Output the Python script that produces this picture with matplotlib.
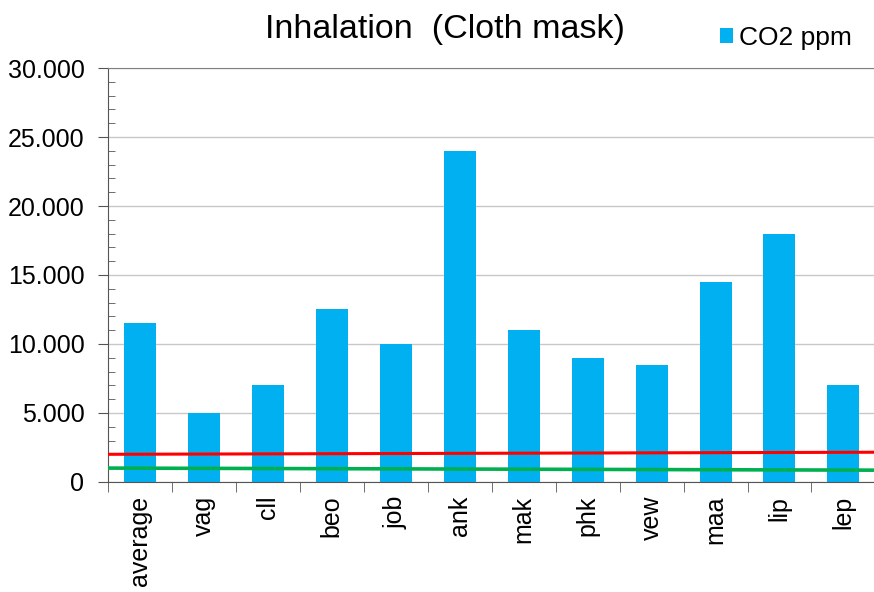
import numpy as np
import matplotlib.pyplot as plt
from matplotlib.ticker import FuncFormatter, MultipleLocator

# 数据
categories = ['average', 'vag', 'cll', 'beo', 'job', 'ank', 'mak', 'phk', 'vew', 'maa', 'lip', 'lep']
co2_ppm = [11500, 5000, 7000, 12500, 10000, 24000, 11000, 9000, 8500, 14500, 18000, 7000]
red_ends = [2000, 2150]
green_ends = [1000, 850]

fig = plt.figure(figsize=(8.74, 5.92), dpi=100)
ax = fig.add_axes([0.1236, 0.186, 0.878, 0.699])

x = np.arange(len(categories))
ax.bar(x, co2_ppm, width=0.5, color='#00B0F0', label='CO2 ppm', zorder=2)

edges = [-0.5, len(categories) - 0.5]
ax.plot(edges, red_ends, color='#FF0000', lw=2.2, zorder=3)
ax.plot(edges, green_ends, color='#00B050', lw=2.6, zorder=3)

ax.set_xlim(-0.5, len(categories) - 0.5)
ax.set_ylim(0, 30000)

ax.yaxis.set_major_locator(MultipleLocator(5000))
ax.yaxis.set_minor_locator(MultipleLocator(1000))
ax.yaxis.set_major_formatter(FuncFormatter(lambda v, p: '0' if v == 0 else '{:,.0f}'.format(v).replace(',', '.')))
ax.grid(axis='y', which='major', color='#C8C8C8', lw=1, zorder=0)

ax.set_xticks(x)
ax.set_xticklabels(categories, rotation=90, fontsize=18, family='Liberation Sans')
ax.set_xticks(np.arange(-0.5, len(categories)), minor=True)
ax.tick_params(axis='x', which='major', length=0, pad=10)
ax.tick_params(axis='x', which='minor', length=7, direction='out', color='#555555')
ax.tick_params(axis='y', which='major', length=7, direction='out', color='#555555', labelsize=18, pad=10)
ax.tick_params(axis='y', which='minor', length=5, direction='in', color='#555555')
for lab in ax.get_yticklabels():
    lab.set_family('Liberation Sans')

ax.spines['right'].set_visible(False)
ax.spines['top'].set_color('#808080')
ax.spines['left'].set_color('#555555')
ax.spines['bottom'].set_color('#555555')

fig.text(0.509, 0.950, 'Inhalation  (Cloth mask)', ha='center', va='center', fontsize=24.5, family='Liberation Sans')
leg = ax.legend(loc='upper right', bbox_to_anchor=(1.0, 1.16), frameon=False,
                handlelength=0.5, handleheight=0.5, handletextpad=0.2, prop={'family': 'Liberation Sans', 'size': 19})

fig.savefig('out.png', dpi=100)
